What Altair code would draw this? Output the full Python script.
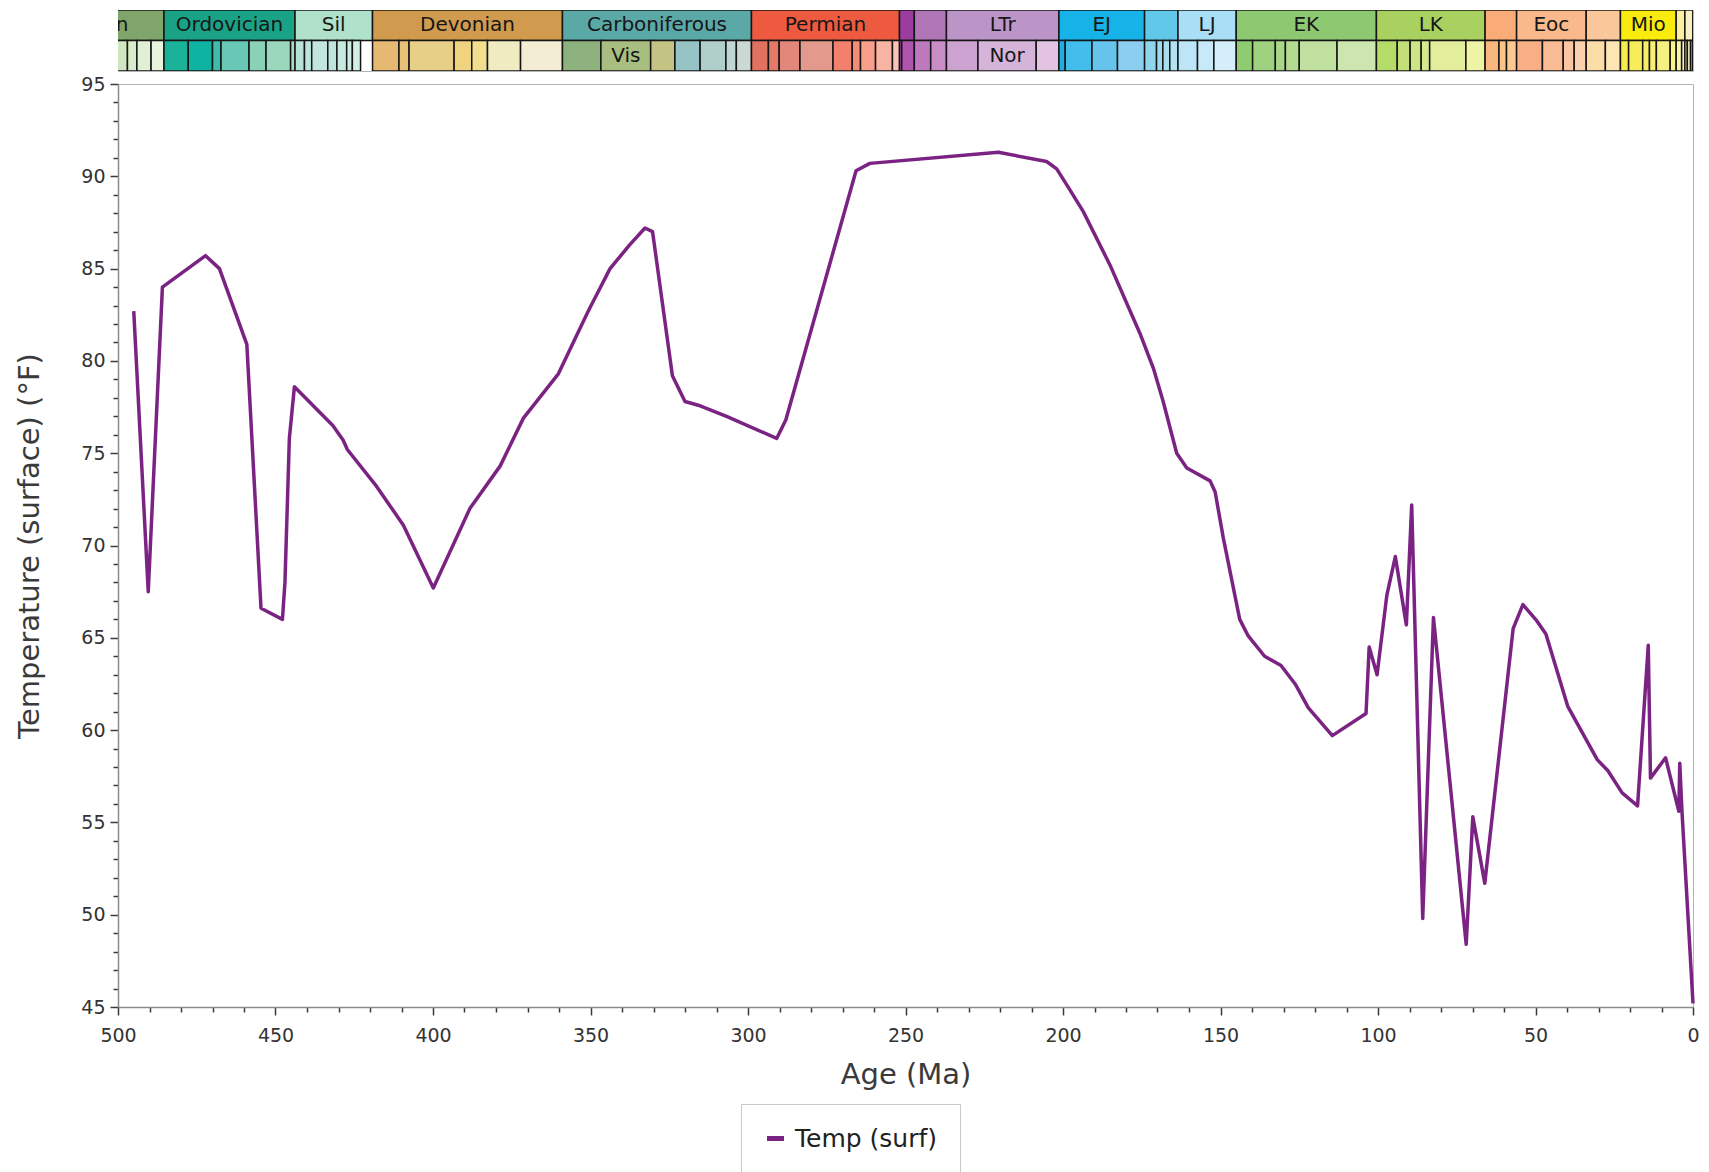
import altair as alt
import pandas as pd

# ---- Surface temperature series (age in Ma, temperature in °F) ----
ages = [495.0, 490.4, 485.9, 472.2, 467.8, 459.1, 454.6, 447.8, 447.0, 445.6, 444.0,
        431.8, 428.5, 427.2, 417.9, 409.4, 399.9, 388.3, 378.7, 371.3, 360.2, 350.7,
        343.8, 337.5, 332.7, 330.3, 324.0, 320.0, 315.8, 306.8, 290.9, 288.0, 265.7,
        261.3, 220.5, 205.2, 202.0, 198.3, 193.6, 185.1, 175.6, 171.3, 168.2, 163.9,
        160.7, 153.3, 151.7, 149.1, 143.9, 141.2, 136.0, 130.8, 126.3, 122.1, 114.5,
        103.8, 102.8, 100.3, 97.2, 94.5, 91.0, 89.3, 85.8, 82.4, 72.0, 69.9, 66.1,
        57.1, 54.0, 49.5, 46.7, 39.8, 30.4, 27.0, 22.5, 17.6, 14.2, 13.5, 8.7, 4.5,
        4.2, 3.5, 0.0]
temps = [82.7, 67.5, 84.0, 85.7, 85.0, 80.9, 66.6, 66.0, 68.0, 75.8, 78.6,
         76.5, 75.7, 75.2, 73.2, 71.1, 67.7, 72.0, 74.3, 76.9, 79.3, 82.7,
         85.0, 86.3, 87.2, 87.0, 79.2, 77.8, 77.6, 77.0, 75.8, 76.8, 90.3,
         90.7, 91.3, 90.8, 90.4, 89.4, 88.1, 85.2, 81.5, 79.6, 77.8, 75.0,
         74.2, 73.5, 72.9, 70.4, 66.0, 65.1, 64.0, 63.5, 62.5, 61.2, 59.7,
         60.9, 64.5, 63.0, 67.3, 69.4, 65.7, 72.2, 49.8, 66.1, 48.4, 55.3, 51.7,
         65.5, 66.8, 65.9, 65.2, 61.3, 58.4, 57.8, 56.6, 55.9, 64.6, 57.4, 58.5, 55.6,
         58.2, 55.6, 45.2]
series_name = "Temp (surf)"

# ---- Geologic time scale: periods / epochs (upper row) ----
period_start = [538.8, 485.4, 443.8, 419.2, 358.9, 298.9, 251.902, 247.2, 237.0,
                201.3, 174.1, 163.5, 145.0, 100.5, 66.0, 56.0, 33.9, 23.03, 5.333,
                2.58, 0.0117]
period_end = [485.4, 443.8, 419.2, 358.9, 298.9, 251.902, 247.2, 237.0, 201.3,
              174.1, 163.5, 145.0, 100.5, 66.0, 56.0, 33.9, 23.03, 5.333, 2.58,
              0.0117, 0.0]
period_labels = ["Cambrian", "Ordovician", "Sil", "Devonian", "Carboniferous", "Permian",
                 "", "", "LTr", "EJ", "", "LJ", "EK", "LK", "", "Eoc", "", "Mio", "",
                 "", ""]
period_colors = ["#7fa56a", "#1aa287", "#b0e1cb", "#d09a4f", "#5ba9a7", "#ee5a3f",
                 "#9a3d9e", "#b176b8", "#bc95c8", "#16b2e8", "#62c8ea", "#a9dff6",
                 "#8cc970", "#a8d160", "#f9ac78", "#f9b98b", "#fac79a", "#f9eb0e",
                 "#faf0a0", "#faefc0", "#fbf2e0"]

# ---- Stages / ages (lower row) ----
stage_start = [504.5, 500.5, 497.0, 494.0, 489.5,
               485.4, 477.7, 470.0, 467.3, 458.4, 453.0, 445.2,
               443.8, 440.8, 438.5, 433.4, 430.5, 427.4, 425.6,
               419.2, 410.8, 407.6, 393.3, 387.7, 382.7, 372.2,
               358.9, 346.7, 330.9, 323.2, 315.2, 307.0, 303.7,
               298.9, 293.52, 290.1, 283.5, 273.01, 266.9, 264.28, 259.51, 254.14,
               251.902, 251.2, 247.2, 242.0, 237.0, 227.0, 208.5,
               201.3, 199.3, 190.8, 182.7, 174.1, 170.3, 168.3, 166.1, 163.5, 157.3, 152.1,
               145.0, 139.8, 132.6, 129.4, 125.0, 113.0, 100.5, 93.9, 89.8, 86.3, 83.6, 72.1,
               66.0, 61.6, 59.2, 56.0, 47.8, 41.2, 37.71, 33.9, 27.82,
               23.03, 20.44, 15.97, 13.82, 11.63, 7.246, 5.333, 3.6, 2.58, 1.8, 0.774,
               0.129, 0.0117]
stage_end = [500.5, 497.0, 494.0, 489.5, 485.4,
             477.7, 470.0, 467.3, 458.4, 453.0, 445.2, 443.8,
             440.8, 438.5, 433.4, 430.5, 427.4, 425.6, 423.0,
             410.8, 407.6, 393.3, 387.7, 382.7, 372.2, 358.9,
             346.7, 330.9, 323.2, 315.2, 307.0, 303.7, 298.9,
             293.52, 290.1, 283.5, 273.01, 266.9, 264.28, 259.51, 254.14, 251.902,
             251.2, 247.2, 242.0, 237.0, 227.0, 208.5, 201.3,
             199.3, 190.8, 182.7, 174.1, 170.3, 168.3, 166.1, 163.5, 157.3, 152.1, 145.0,
             139.8, 132.6, 129.4, 125.0, 113.0, 100.5, 93.9, 89.8, 86.3, 83.6, 72.1, 66.0,
             61.6, 59.2, 56.0, 47.8, 41.2, 37.71, 33.9, 27.82, 23.03,
             20.44, 15.97, 13.82, 11.63, 7.246, 5.333, 3.6, 2.58, 1.8, 0.774, 0.129,
             0.0117, 0.0]
stage_colors = ["#bcdca3", "#cfe6c0", "#d7ecca", "#e0f0d4", "#e8f4de",
                "#1bb29a", "#0fb3a1", "#3dbca9", "#66c8b5", "#8ad2b6", "#9bd7bc", "#a9dcc4",
                "#b8e2d5", "#bde4d9", "#c2e6dd", "#bfe5da", "#c8e9df", "#ccebe2", "#d3eee6",
                "#e6b872", "#e6c278", "#e8cf88", "#f0d37e", "#f1de8f", "#f0ebc0", "#f2edd3",
                "#8db27e", "#a8bd80", "#c3c383", "#96c4c6", "#b1cfca", "#c0d6d2", "#cbd8d4",
                "#e1725f", "#e37a68", "#e3877a", "#e3998c", "#f3806d", "#f58c7a", "#f89e8a",
                "#f9b3a2", "#fac3b5",
                "#a548a5", "#b055ad", "#bd78be", "#c98cc6", "#cca2d1", "#d6b4d9", "#e2c4e2",
                "#1faee2", "#42bdec", "#66c4ec", "#8ccef0", "#8fd5ec", "#9ddaee", "#a8def0",
                "#b3e2f2", "#bde5f7", "#c8eaf8", "#d4effa",
                "#8fcc70", "#9ed27f", "#a9d788", "#b3db91", "#c0e0a0", "#cde5ae", "#b5db68",
                "#c2e077", "#cde584", "#d7e98f", "#e3ee9c", "#eef3a6",
                "#f9b77e", "#fbc386", "#fbc88f", "#f8af86", "#f9bb93", "#fac5a0", "#fbd0ae",
                "#fcdda8", "#fde6b3",
                "#f6ec4a", "#f7ed5a", "#f7ee66", "#f8ef72", "#f8f07e", "#f9f18a", "#faf3aa",
                "#faf4b6", "#f9e9b5", "#faedbe", "#faefc9", "#faf0d2", "#fbf2e0"]
stage_labels = [""] * len(stage_start)
stage_labels[stage_start.index(346.7)] = "Vis"
stage_labels[stage_start.index(227.0)] = "Nor"

FONT = "DejaVu Sans"
PLOT_W = 1575
X_DOMAIN = [500, 0]

rows = []
for s, e, c, lab in zip(period_start, period_end, period_colors, period_labels):
    rows.append({"start": s, "end": e, "mid": (s + e) / 2, "row": "period",
                 "fill": c, "label": lab})
for s, e, c, lab in zip(stage_start, stage_end, stage_colors, stage_labels):
    rows.append({"start": s, "end": e, "mid": (s + e) / 2, "row": "stage",
                 "fill": c, "label": lab})
scale_df = pd.DataFrame(rows)

band_x = alt.Scale(domain=X_DOMAIN, nice=False, zero=False)
band_y = alt.Scale(domain=["period", "stage"], paddingInner=0, paddingOuter=0)

cells = alt.Chart(scale_df).mark_rect(stroke="#151515", strokeWidth=1.5, clip=True).encode(
    x=alt.X("start:Q", scale=band_x, axis=None),
    x2="end:Q",
    y=alt.Y("row:N", scale=band_y, axis=None),
    fill=alt.Color("fill:N", scale=None),
)
names = alt.Chart(scale_df).mark_text(
    font=FONT, fontSize=20, color="#161616", clip=True, baseline="middle"
).encode(
    x=alt.X("mid:Q", scale=band_x, axis=None),
    y=alt.Y("row:N", scale=band_y, axis=None),
    text="label:N",
)
timescale = alt.layer(cells, names).properties(width=PLOT_W, height=61)

# ---- Temperature curve ----
temp_df = pd.DataFrame({"age": ages, "temp": temps, "series": series_name})

major5 = "datum.value % 5 === 0"
major50 = "datum.value % 50 === 0"

curve = alt.Chart(temp_df).mark_line(strokeWidth=3.5, strokeJoin="round").encode(
    x=alt.X(
        "age:Q",
        scale=alt.Scale(domain=X_DOMAIN, nice=False, zero=False),
        axis=alt.Axis(
            title="Age (Ma)",
            values=list(range(0, 501, 10)),
            labelExpr=f"{major50} ? datum.label : ''",
            tickSize={"condition": {"test": major50, "value": 8}, "value": 5},
            labelFontSize=19,
            labelPadding=11,
            labelFlush=False,
            titleFontSize=29,
            titlePadding=15,
            grid=False,
        ),
    ),
    y=alt.Y(
        "temp:Q",
        scale=alt.Scale(domain=[45, 95], nice=False, zero=False),
        axis=alt.Axis(
            title="Temperature (surface) (°F)",
            values=list(range(45, 96)),
            labelExpr=f"{major5} ? datum.label : ''",
            tickSize={"condition": {"test": major5, "value": 8}, "value": 5},
            labelFontSize=19,
            labelPadding=5,
            labelFlush=False,
            titleFontSize=29,
            titlePadding=36,
            grid=False,
        ),
    ),
    color=alt.Color(
        "series:N",
        scale=alt.Scale(domain=[series_name], range=["#7b2383"]),
        legend=alt.Legend(
            title=None,
            orient="none",
            legendX=623,
            legendY=1094,
            symbolType="stroke",
            symbolStrokeWidth=5,
            symbolSize=289,
            labelFontSize=25,
            labelFont=FONT,
            labelColor="#222222",
            labelOffset=7,
            strokeColor="#c8c8c8",
            padding=22,
        ),
    ),
).properties(width=PLOT_W, height=923)

chart = alt.vconcat(timescale, curve, spacing=2).properties(
    padding={"left": 15, "top": 9, "right": 6, "bottom": 0},
    background="white",
).configure_view(
    stroke="#b4b4b4", strokeWidth=1
).configure_axis(
    domainColor="#8c8c8c",
    domainWidth=1.5,
    tickColor="#3a3a3a",
    tickWidth=1.5,
    labelColor="#333333",
    titleColor="#3a3a3a",
    labelFont=FONT,
    titleFont=FONT,
    titleFontWeight="normal",
)

chart.save("out.html", embed_options={"renderer": "svg", "actions": False})
